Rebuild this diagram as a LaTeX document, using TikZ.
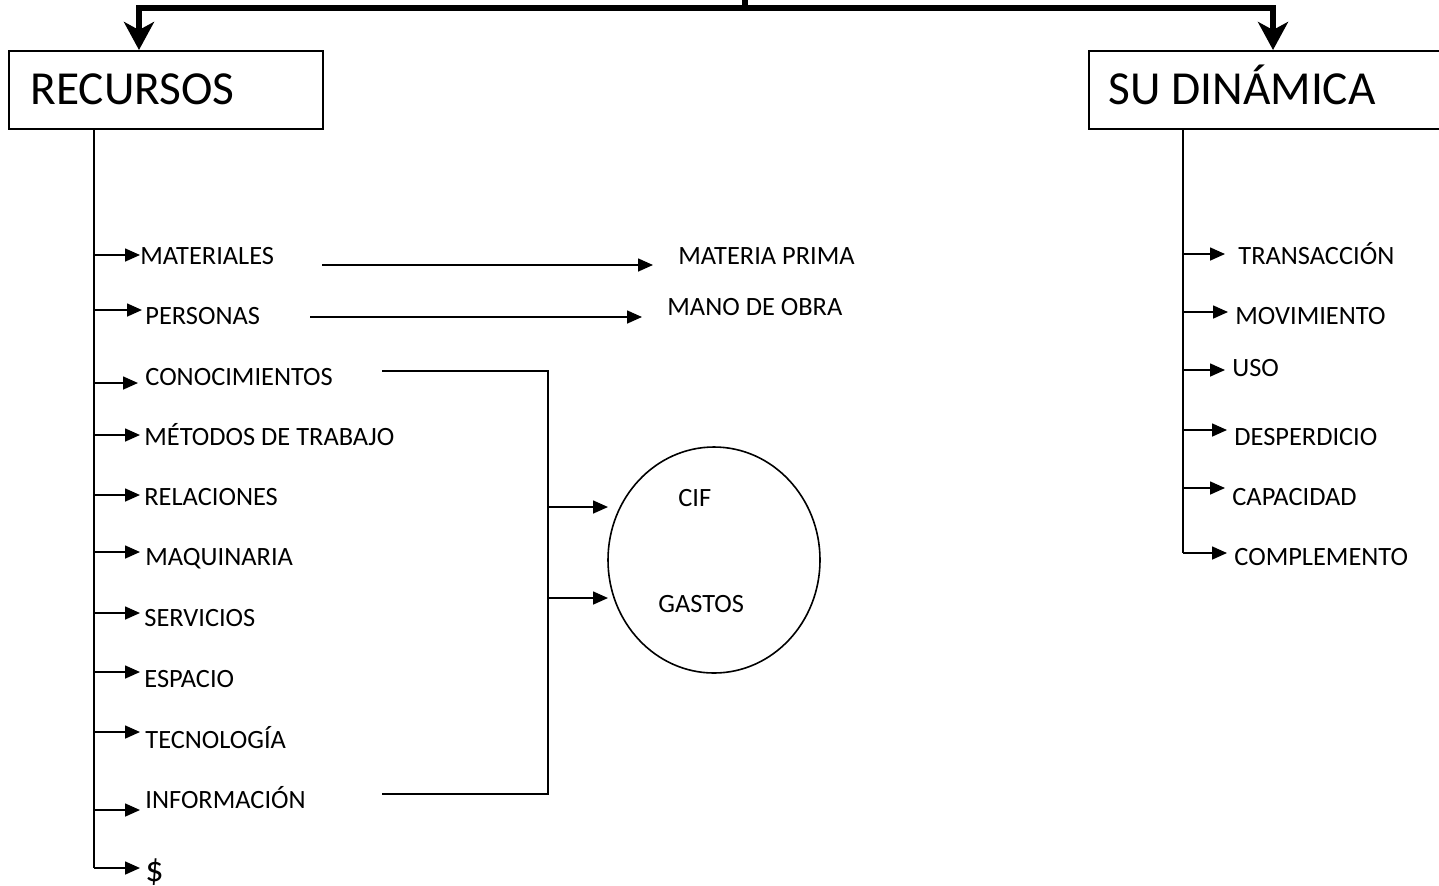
\documentclass[tikz,border=0pt]{standalone}
\usepackage{fontspec}
\setmainfont{Carlito}
\usetikzlibrary{arrows.meta,shapes.geometric}
\tikzset{
  ln/.style={line width=0.8pt, draw=black},
  arr/.style={ln, -{Triangle[length=7.5pt,width=6.5pt]}},
  bigarr/.style={line width=3pt, -{Stealth[length=14pt,width=15pt,inset=4pt]}},
  lbl/.style={font=\fontsize{13.2pt}{15pt}\selectfont, anchor=west, inner sep=0pt, text height=8.5pt, text depth=0pt},
  biglbl/.style={font=\fontsize{23.7pt}{26pt}\selectfont, anchor=west, inner sep=0pt, text height=15.3pt, text depth=0pt},
  box/.style={draw, line width=0.8pt, anchor=north west, minimum height=39pt, inner sep=0pt}
}
\begin{document}
\begin{tikzpicture}[x=0.5pt,y=-0.5pt]
\useasboundingbox (0,0) rectangle (1439,885);
% boxes
\node[box, minimum width=157pt] (rec) at (8,50) {};
\node[box, minimum width=181pt] (din) at (1088,50) {};
\node[biglbl] (rect) at (30,89) {RECURSOS};
\node[biglbl] (dint) at (1108,89) {SU DINÁMICA};
% top connector
\coordinate (top) at (745,-4);
\coordinate (hub) at (745,8);
\coordinate (hubL) at (139,8);
\coordinate (hubR) at (1273,8);
\draw[line width=3pt] (top) -- (hub);
\draw[line width=3pt, line cap=rect] (hubL) -- (hubR);
\draw[bigarr] (hubL) -- (hubL |- rec.north);
\draw[bigarr] (hubR) -- (hubR |- din.north);
% left labels
\node[lbl] (mat) at (140,256) {MATERIALES};
\node[lbl] (per) at (145,316) {PERSONAS};
\node[lbl] (con) at (145,377) {CONOCIMIENTOS};
\node[lbl] (met) at (144,437) {MÉTODOS DE TRABAJO};
\node[lbl] (rel) at (144,497) {RELACIONES};
\node[lbl] (maq) at (145,557) {MAQUINARIA};
\node[lbl] (ser) at (144,618) {SERVICIOS};
\node[lbl] (esp) at (144,679) {ESPACIO};
\node[lbl] (tec) at (145,740) {TECNOLOGÍA};
\node[lbl] (inf) at (145,800) {INFORMACIÓN};
\node[lbl, font=\fontsize{18pt}{20pt}\selectfont, text height=11.6pt] (dol) at (145,870) {\$};
% left spine
\coordinate (sL) at (94,128);
\coordinate (sLend) at (94,868);
\draw[ln] (sL) -- (sLend);
\foreach \y/\t in {255/140, 310/142, 383/138, 435/140, 495/140, 552/140, 613/140, 672/140, 732/140, 810/140}{
  \draw[arr] (94,\y) -- (\t,\y);
}
\draw[arr] (sLend) -- (140,868);
% right labels
\node[lbl] (tra) at (1238,256) {TRANSACCIÓN};
\node[lbl] (mov) at (1235,316) {MOVIMIENTO};
\node[lbl] (uso) at (1232,368) {USO};
\node[lbl] (des) at (1234,437) {DESPERDICIO};
\node[lbl] (cap) at (1232,497) {CAPACIDAD};
\node[lbl] (com) at (1234,557) {COMPLEMENTO};
\coordinate (sR) at (1183,128);
\coordinate (sRend) at (1183,553);
\draw[ln] (sR) -- (sRend);
\foreach \y/\t in {254/1225, 312/1228, 370/1225, 430/1227, 488/1225}{
  \draw[arr] (1183,\y) -- (\t,\y);
}
\draw[arr] (sRend) -- (1227,553);
% middle
\node[lbl] (mp) at (678,256) {MATERIA PRIMA};
\node[lbl] (mo) at (667,307) {MANO DE OBRA};
\coordinate (m1s) at (322,265);
\coordinate (m1e) at (653,265);
\coordinate (m2s) at (310,317);
\coordinate (m2e) at (642,317);
\draw[arr] (m1s) -- (m1e);
\draw[arr] (m2s) -- (m2e);
% bracket
\coordinate (b1) at (382,371);
\coordinate (b2) at (548,371);
\coordinate (b3) at (548,794);
\coordinate (b4) at (382,794);
\draw[ln] (b1) -- (b2) -- (b3) -- (b4);
% ellipse
\node[ellipse, draw, line width=0.8pt, minimum width=106pt, minimum height=113pt, inner sep=0pt] (circ) at (714,560) {};
\node[lbl] (cif) at (678,498) {CIF};
\node[lbl] (gas) at (658,604) {GASTOS};
\draw[arr] (548,507) -- (608,507);
\draw[arr] (548,598) -- (608,598);
\end{tikzpicture}
\end{document}
